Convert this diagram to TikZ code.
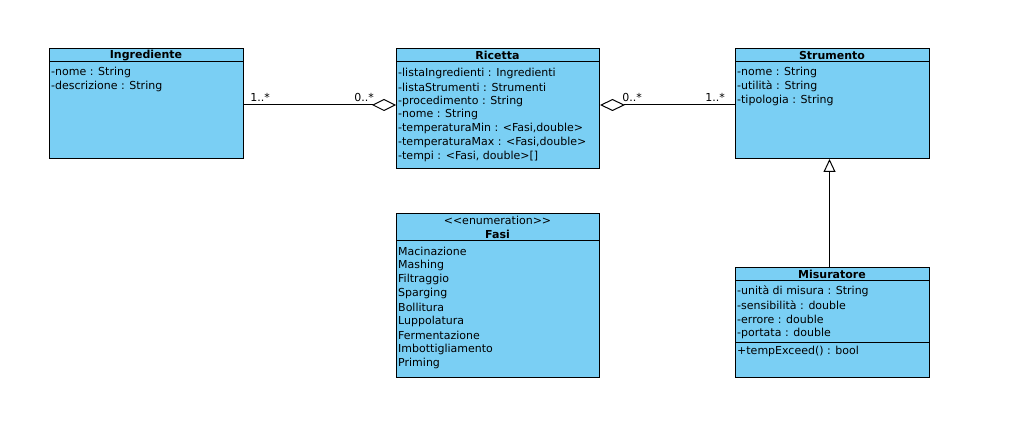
\documentclass[tikz,border=0pt]{standalone}
\usepackage{fontspec}
\setmainfont{DejaVu Sans}
\usetikzlibrary{arrows.meta,calc}
\definecolor{clsfill}{RGB}{122,207,244}
\tikzset{
  cls/.style={draw=black, fill=clsfill, line width=1pt, rectangle, inner sep=0pt, anchor=north west},
  attr/.style={anchor=west, inner sep=0pt, yshift=-1pt, font=\fontsize{11}{13}\selectfont},
  title/.style={anchor=center, inner sep=0pt, yshift=-0.5pt, font=\fontsize{11}{13}\selectfont\bfseries},
  mult/.style={anchor=center, inner sep=0pt, yshift=-0.5pt, font=\fontsize{11}{13}\selectfont},
  sep/.style={line width=1pt},
  conn/.style={line width=1pt},
}
\begin{document}
\begin{tikzpicture}[x=1pt,y=-1pt]
\useasboundingbox (0,0) rectangle (1016,443);
% Ingrediente
\node[cls, minimum width=194pt, minimum height=110pt] (ing) at (49,48) {};
\draw[sep] (49,62) -- (243,62);
\node[title] (ingT) at (146,55) {Ingrediente};
\node[attr] (ing1) at (51,71) {-nome : String};
\node[attr] (ing2) at (51,85) {-descrizione : String};
% Ricetta
\node[cls, minimum width=203pt, minimum height=120pt] (ric) at (396,48) {};
\draw[sep] (396,62) -- (599,62);
\node[title] (ricT) at (497.5,55) {Ricetta};
\node[attr] (ric1) at (398,72) {-listaIngredienti : Ingredienti};
\node[attr] (ric2) at (398,86) {-listaStrumenti : Strumenti};
\node[attr] (ric3) at (398,100) {-procedimento : String};
\node[attr] (ric4) at (398,113.5) {-nome : String};
\node[attr] (ric5) at (398,127.5) {-temperaturaMin : <Fasi,double>};
\node[attr] (ric6) at (398,141.5) {-temperaturaMax : <Fasi,double>};
\node[attr] (ric7) at (398,155.5) {-tempi : <Fasi, double>[]};
% Strumento
\node[cls, minimum width=194pt, minimum height=110pt] (str) at (735,48) {};
\draw[sep] (735,62) -- (929,62);
\node[title] (strT) at (832,55) {Strumento};
\node[attr] (str1) at (737,71) {-nome : String};
\node[attr] (str2) at (737,85) {-utilità : String};
\node[attr] (str3) at (737,99.5) {-tipologia : String};
% Fasi
\node[cls, minimum width=203pt, minimum height=164pt] (fas) at (396,213) {};
\draw[sep] (396,241) -- (599,241);
\node[mult] (fasS) at (497.5,220) {{<}{<}enumeration{>}{>}};
\node[title] (fasT) at (497.5,234) {Fasi};
\node[attr] (f1) at (398,250) {Macinazione};
\node[attr] (f2) at (398,264) {Mashing};
\node[attr] (f3) at (398,278) {Filtraggio};
\node[attr] (f4) at (398,292) {Sparging};
\node[attr] (f5) at (398,306) {Bollitura};
\node[attr] (f6) at (398,320) {Luppolatura};
\node[attr] (f7) at (398,334) {Fermentazione};
\node[attr] (f8) at (398,348) {Imbottigliamento};
\node[attr] (f9) at (398,362) {Priming};
% Misuratore
\node[cls, minimum width=194pt, minimum height=110pt] (mis) at (735,267) {};
\draw[sep] (735,281) -- (929,281);
\draw[sep] (735,342) -- (929,342);
\node[title] (misT) at (832,274) {Misuratore};
\node[attr] (m1) at (737,290) {-unità di misura : String};
\node[attr] (m2) at (737,304) {-sensibilità : double};
\node[attr] (m3) at (737,318) {-errore : double};
\node[attr] (m4) at (737,332) {-portata : double};
\node[attr] (m5) at (737,350.5) {+tempExceed() : bool};
% connectors
\draw[conn, -{Diamond[open, length=24pt, width=12pt, line width=1pt]}]
  ($(ing.north east)+(0,57)$) -- ($(ric.north west)+(0,57)$);
\draw[conn, {Diamond[open, length=25pt, width=12pt, line width=1pt]}-]
  ($(ric.north east)+(0,57)$) -- ($(str.north west)+(0,57)$);
\draw[conn, -{Triangle[open, length=13pt, width=12pt, line width=1pt]}]
  ($(mis.north)+(-3,0)$) -- ($(str.south)+(-3,0)$);
% multiplicities
\node[mult] (l1) at (260,97) {1..*};
\node[mult] (l2) at (364,97) {0..*};
\node[mult] (l3) at (632,97) {0..*};
\node[mult] (l4) at (715,97) {1..*};
\end{tikzpicture}
\end{document}
